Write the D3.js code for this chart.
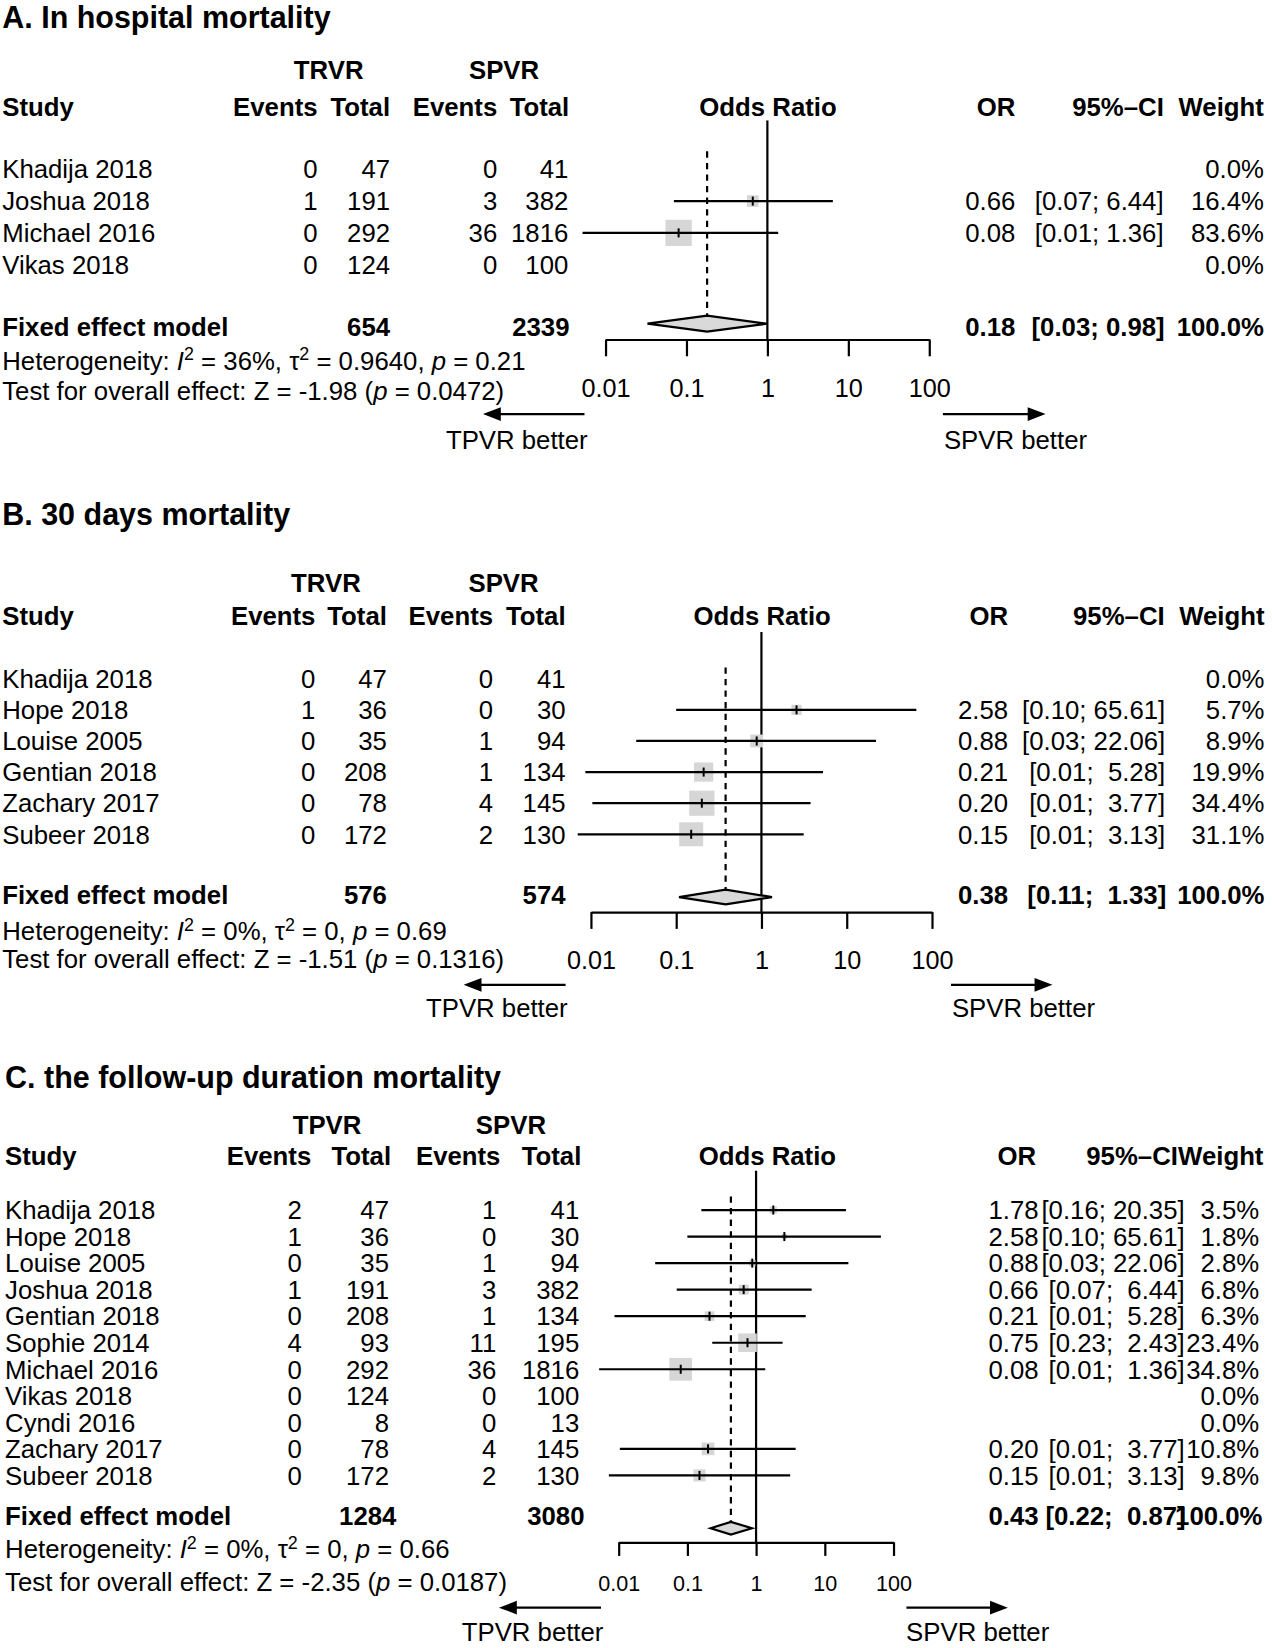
<!DOCTYPE html>
<html>
<head>
<meta charset="utf-8">
<script src="https://cdn.jsdelivr.net/npm/d3@7"></script>
<style>
body { margin: 0; background: #fff; }
svg text { font-family: "Liberation Sans", Arial, Helvetica, sans-serif; white-space: pre; fill: #000; }
</style>
</head>
<body>
<svg id="chart"></svg>
<script>
// ---- data ----
var panelTitles = ["A. In hospital mortality", "B. 30 days mortality", "C. the follow-up duration mortality"];
var groupLabels = ["TRVR", "TRVR", "TPVR"];
var tickValues = [0.01, 0.1, 1, 10, 100];

var studiesA = ["Khadija 2018", "Joshua 2018", "Michael 2016", "Vikas 2018"];
var eventsTA = [0, 1, 0, 0];
var totalTA = [47, 191, 292, 124];
var eventsSA = [0, 3, 36, 0];
var totalSA = [41, 382, 1816, 100];
var orA = [null, 0.66, 0.08, null];
var lowerA = [null, 0.07, 0.0052, null];
var upperA = [null, 6.44, 1.36, null];
var weightA = [0, 16.4, 83.6, 0];

var studiesB = ["Khadija 2018", "Hope 2018", "Louise 2005", "Gentian 2018", "Zachary 2017", "Subeer 2018"];
var eventsTB = [0, 1, 0, 0, 0, 0];
var totalTB = [47, 36, 35, 208, 78, 172];
var eventsSB = [0, 0, 1, 1, 4, 2];
var totalSB = [41, 30, 94, 134, 145, 130];
var orB = [null, 2.58, 0.88, 0.21, 0.20, 0.15];
var lowerB = [null, 0.10, 0.034, 0.0086, 0.0104, 0.007];
var upperB = [null, 65.61, 22.06, 5.28, 3.77, 3.13];
var weightB = [0, 5.7, 8.9, 19.9, 34.4, 31.1];

var studiesC = ["Khadija 2018", "Hope 2018", "Louise 2005", "Joshua 2018", "Gentian 2018", "Sophie 2014",
  "Michael 2016", "Vikas 2018", "Cyndi 2016", "Zachary 2017", "Subeer 2018"];
var eventsTC = [2, 1, 0, 1, 0, 4, 0, 0, 0, 0, 0];
var totalTC = [47, 36, 35, 191, 208, 93, 292, 124, 8, 78, 172];
var eventsSC = [1, 0, 1, 3, 1, 11, 36, 0, 0, 4, 2];
var totalSC = [41, 30, 94, 382, 134, 195, 1816, 100, 13, 145, 130];
var orC = [1.78, 2.58, 0.88, 0.66, 0.21, 0.75, 0.08, null, null, 0.20, 0.15];
var lowerC = [0.16, 0.10, 0.034, 0.07, 0.0087, 0.23, 0.0052, null, null, 0.0104, 0.0072];
var upperC = [20.35, 65.61, 22.06, 6.44, 5.28, 2.43, 1.36, null, null, 3.77, 3.13];
var weightC = [3.5, 1.8, 2.8, 6.8, 6.3, 23.4, 34.8, 0, 0, 10.8, 9.8];

var fixedTotalT = [654, 576, 1284];
var fixedTotalS = [2339, 574, 3080];
var fixedOR = [0.18, 0.38, 0.43];
var fixedLower = [0.033, 0.108, 0.218];
var fixedUpper = [0.98, 1.33, 0.87];

var statI2 = ["36%", "0%", "0%"];
var statTau2 = ["0.9640", "0", "0"];
var statHetP = ["0.21", "0.69", "0.66"];
var statZ = ["-1.98", "-1.51", "-2.35"];
var statP = ["0.0472", "0.1316", "0.0187"];

// ---- layout (drawn in a 1210 x 1568 box, scaled to the window) ----
var layouts = [
  { titleY: 16, titleX: 2, groupY: 66, groupTX: 312.6, groupSX: 479.5,
    headY: 101.6, studyX: 2, hET: 302, hTT: 371, hES: 473, hTS: 541.5,
    vET: 302, vTT: 371, vES: 473, vTS: 540.6, fTT: 371, fTS: 541.7,
    orHeadX: 730.6, hOR: 966, hCI: 1107.2, hW: 1202.4, vOR: 966, vCI: 1107, vW: 1202.5, fW: 1202.5,
    x0: 576, x1: 884, rowY0: 161, rowStep: 30.3,
    fixY: 311, diaY: 308, diaH: 7.6, vTop: 114.6, dTop: 144,
    axisY: 323, tickLen: 16, tickPad: 21.6, tickFs: 24,
    hetY: 343, testY: 372,
    arrowY: 394, arrL: [556, 459.4], arrR: [897, 994.7], arrLabY: 418, labL: 559, labR: 898,
    sqMax: 25 },
  { titleY: 489.4, titleX: 2, groupY: 554, groupTX: 310, groupSX: 479,
    headY: 586, studyX: 2, hET: 300, hTT: 368, hES: 469, hTS: 538,
    vET: 300, vTT: 368, vES: 469, vTS: 538, fTT: 368, fTS: 538,
    orHeadX: 725, hOR: 959, hCI: 1108, hW: 1203, vOR: 959, vCI: 1108.5, vW: 1203, fW: 1203,
    x0: 562.1, x1: 886.6, rowY0: 645.8, rowStep: 29.6,
    fixY: 851, diaY: 853.5, diaH: 7, vTop: 601.3, dTop: 635,
    axisY: 867.8, tickLen: 16, tickPad: 21.6, tickFs: 24,
    hetY: 886, testY: 912.4,
    arrowY: 937, arrL: [538, 441], arrR: [904.7, 1001.2], arrLabY: 958.5, labL: 540, labR: 905.6,
    sqMax: 24 },
  { titleY: 1025, titleX: 4.7, groupY: 1070.4, groupTX: 311, groupSX: 486,
    headY: 1099.8, studyX: 4.7, hET: 296, hTT: 372, hES: 476, hTS: 553,
    vET: 287, vTT: 370, vES: 472, vTS: 551, fTT: 377, fTS: 556,
    orHeadX: 730, hOR: 985.6, hCI: 1120.6, hW: 1202, vOR: 988, vCI: 1127, vW: 1198, fW: 1201,
    x0: 588.5, x1: 850, rowY0: 1151.3, rowStep: 25.25,
    fixY: 1442.4, diaY: 1454, diaH: 6, vTop: 1113.8, dTop: 1138.4,
    axisY: 1467.4, tickLen: 13, tickPad: 18.4, tickFs: 20.5,
    hetY: 1474, testY: 1505,
    arrowY: 1529.6, arrL: [571.7, 474.6], arrR: [862.3, 958.8], arrLabY: 1552.5, labL: 574, labR: 862,
    sqMax: 21.6 }
];

var fs = 24.5;
var lw = 2.1;
var f2 = d3.format(".2f"), f1 = d3.format(".1f");

var svg = d3.select("#chart")
  .attr("width", 1272).attr("height", 1648)
  .attr("viewBox", "0 0 1210 1568");

function label(g, x, yc, s, anchor, bold, size) {
  size = size || fs;
  return g.append("text")
    .attr("x", x).attr("y", yc + size * 0.36)
    .attr("text-anchor", anchor || "start")
    .attr("font-weight", bold ? "bold" : null)
    .attr("font-size", size)
    .text(s);
}

function arrow(g, from, to, y) {
  var dir = to > from ? 1 : -1;
  g.append("line").attr("x1", from).attr("x2", to - dir * 8).attr("y1", y).attr("y2", y)
    .attr("stroke", "#000").attr("stroke-width", 2.2);
  g.append("polygon")
    .attr("points", [[to, y], [to - dir * 17, y - 6.5], [to - dir * 17, y + 6.5]].join(" "))
    .attr("fill", "#000");
}

function drawPanel(k, D, L) {
  var g = svg.append("g");
  var x = d3.scaleLog().domain([0.01, 100]).range([L.x0, L.x1]);

  label(g, L.titleX, L.titleY, panelTitles[k], "start", true, 29);
  label(g, L.groupTX, L.groupY, groupLabels[k], "middle", true);
  label(g, L.groupSX, L.groupY, "SPVR", "middle", true);

  label(g, L.studyX, L.headY, "Study", "start", true);
  label(g, L.hET, L.headY, "Events", "end", true);
  label(g, L.hTT, L.headY, "Total", "end", true);
  label(g, L.hES, L.headY, "Events", "end", true);
  label(g, L.hTS, L.headY, "Total", "end", true);
  label(g, L.orHeadX, L.headY, "Odds Ratio", "middle", true);
  label(g, L.hOR, L.headY, "OR", "end", true);
  label(g, L.hCI, L.headY, "95%\u2013CI", "end", true);
  label(g, L.hW, L.headY, "Weight", "end", true);

  // line of no effect and pooled estimate
  g.append("line").attr("x1", x(1)).attr("x2", x(1)).attr("y1", L.vTop).attr("y2", L.axisY)
    .attr("stroke", "#000").attr("stroke-width", lw);
  g.append("line").attr("x1", x(fixedOR[k])).attr("x2", x(fixedOR[k]))
    .attr("y1", L.dTop).attr("y2", L.diaY - L.diaH)
    .attr("stroke", "#000").attr("stroke-width", lw).attr("stroke-dasharray", "6,5");

  var his = D.upper.filter(function (v) { return v != null; }).concat([fixedUpper[k]]);
  var hiLen = d3.max(his, function (v) { return f2(v).length; });
  function ciText(lo, hi) {
    var h = f2(hi);
    while (h.length < hiLen) h = " " + h;
    return "[" + f2(lo) + "; " + h + "]";
  }

  var maxW = d3.max(D.weight);
  D.studies.forEach(function (s, i) {
    var y = L.rowY0 + i * L.rowStep;
    label(g, L.studyX, y, s);
    label(g, L.vET, y, D.eventsT[i], "end");
    label(g, L.vTT, y, D.totalT[i], "end");
    label(g, L.vES, y, D.eventsS[i], "end");
    label(g, L.vTS, y, D.totalS[i], "end");
    if (D.or[i] != null) {
      var side = L.sqMax * Math.sqrt(D.weight[i] / maxW);
      g.append("rect").attr("x", x(D.or[i]) - side / 2).attr("y", y - side / 2)
        .attr("width", side).attr("height", side).attr("fill", "#d6d6d6");
      g.append("line").attr("x1", x(D.lower[i])).attr("x2", x(D.upper[i])).attr("y1", y).attr("y2", y)
        .attr("stroke", "#000").attr("stroke-width", lw);
      g.append("line").attr("x1", x(D.or[i])).attr("x2", x(D.or[i])).attr("y1", y - 4.3).attr("y2", y + 4.3)
        .attr("stroke", "#000").attr("stroke-width", 1.9);
      label(g, L.vOR, y, f2(D.or[i]), "end");
      label(g, L.vCI, y, ciText(D.lower[i], D.upper[i]), "end");
    }
    label(g, L.vW, y, f1(D.weight[i]) + "%", "end");
  });

  // pooled row
  label(g, L.studyX, L.fixY, "Fixed effect model", "start", true);
  label(g, L.fTT, L.fixY, fixedTotalT[k], "end", true);
  label(g, L.fTS, L.fixY, fixedTotalS[k], "end", true);
  g.append("polygon")
    .attr("points", [[x(fixedLower[k]), L.diaY], [x(fixedOR[k]), L.diaY - L.diaH],
      [x(fixedUpper[k]), L.diaY], [x(fixedOR[k]), L.diaY + L.diaH]].join(" "))
    .attr("fill", "#d9d9d9").attr("stroke", "#000").attr("stroke-width", lw);
  label(g, L.vOR, L.fixY, f2(fixedOR[k]), "end", true);
  label(g, L.vCI + 1, L.fixY, ciText(fixedLower[k], fixedUpper[k]), "end", true);
  label(g, L.fW, L.fixY, "100.0%", "end", true);

  // axis
  var axis = d3.axisBottom(x).tickValues(tickValues)
    .tickFormat(function (d) { return String(d); })
    .tickSize(L.tickLen).tickSizeOuter(0).tickPadding(L.tickPad);
  var ag = g.append("g").attr("transform", "translate(0," + L.axisY + ")").call(axis);
  ag.attr("font-size", L.tickFs).attr("font-family", null);
  ag.selectAll("path, line").attr("stroke", "#000").attr("stroke-width", lw);

  // statistics
  var het = g.append("text").attr("x", L.studyX).attr("y", L.hetY + fs * 0.36).attr("font-size", fs);
  het.append("tspan").text("Heterogeneity: ");
  het.append("tspan").attr("font-style", "italic").text("I");
  het.append("tspan").attr("dy", -9).attr("font-size", 17).text("2");
  het.append("tspan").attr("dy", 9).text(" = " + statI2[k] + ", \u03c4");
  het.append("tspan").attr("dy", -9).attr("font-size", 17).text("2");
  het.append("tspan").attr("dy", 9).text(" = " + statTau2[k] + ", ");
  het.append("tspan").attr("font-style", "italic").text("p");
  het.append("tspan").text(" = " + statHetP[k]);

  var test = g.append("text").attr("x", L.studyX).attr("y", L.testY + fs * 0.36).attr("font-size", fs);
  test.append("tspan").text("Test for overall effect: Z = " + statZ[k] + " (");
  test.append("tspan").attr("font-style", "italic").text("p");
  test.append("tspan").text(" = " + statP[k] + ")");

  // favours arrows
  arrow(g, L.arrL[0], L.arrL[1], L.arrowY);
  arrow(g, L.arrR[0], L.arrR[1], L.arrowY);
  label(g, L.labL, L.arrLabY, "TPVR better", "end");
  label(g, L.labR, L.arrLabY, "SPVR better", "start");
}

var panels = [
  { studies: studiesA, eventsT: eventsTA, totalT: totalTA, eventsS: eventsSA, totalS: totalSA,
    or: orA, lower: lowerA, upper: upperA, weight: weightA },
  { studies: studiesB, eventsT: eventsTB, totalT: totalTB, eventsS: eventsSB, totalS: totalSB,
    or: orB, lower: lowerB, upper: upperB, weight: weightB },
  { studies: studiesC, eventsT: eventsTC, totalT: totalTC, eventsS: eventsSC, totalS: totalSC,
    or: orC, lower: lowerC, upper: upperC, weight: weightC }
];

panels.forEach(function (D, k) { drawPanel(k, D, layouts[k]); });
</script>
</body>
</html>
